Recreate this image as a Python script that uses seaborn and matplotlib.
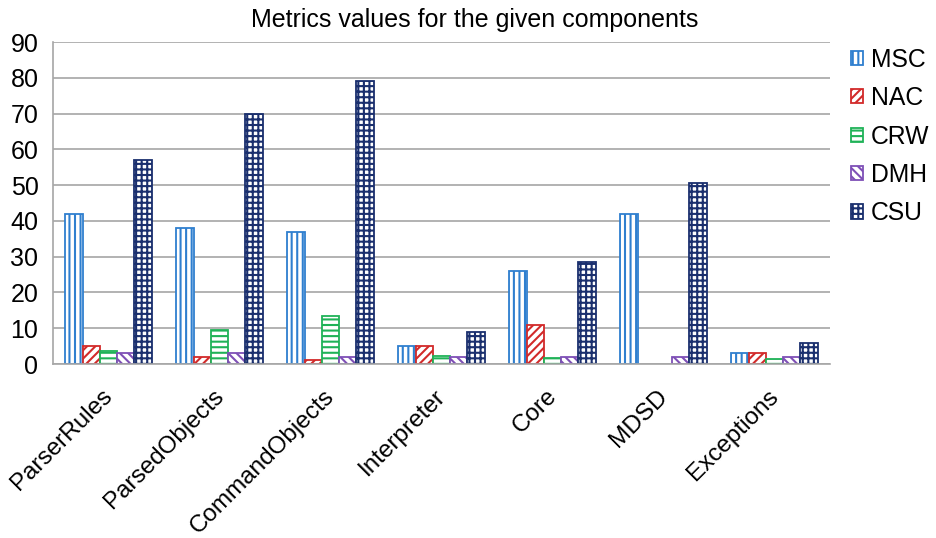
import matplotlib
matplotlib.use("Agg")
import matplotlib.pyplot as plt
from matplotlib.patches import Patch
from matplotlib.transforms import ScaledTranslation
import seaborn as sns
import pandas as pd
import numpy as np

# Components and the metric values measured for each of them
components = ["ParserRules", "ParsedObjects", "CommandObjects", "Interpreter",
              "Core", "MDSD", "Exceptions"]
metrics = ["MSC", "NAC", "CRW", "DMH", "CSU"]
msc = [42, 38, 37, 5, 26, 42, 3]
nac = [5, 2, 1, 5, 11, 0, 3]
crw = [3.5, 9.5, 13.3, 2.1, 1.6, 0, 1.4]
dmh = [3, 3, 2, 2, 2, 2, 2]
csu = [57, 70, 79, 9, 28.5, 50.5, 6]
y_ticks = [0, 10, 20, 30, 40, 50, 60, 70, 80, 90]

colors = ["#2f7fcf", "#d22a2a", "#1fb257", "#7e4fb6", "#1a2f6e"]
hatches = ["|||", "////", "---", "\\\\\\\\", "+++"]

df = pd.DataFrame({
    "component": np.repeat(components, len(metrics)),
    "metric": metrics * len(components),
    "value": np.ravel(np.column_stack([msc, nac, crw, dmh, csu])),
})

sns.set_style("white")
plt.rcParams["font.family"] = ["Liberation Sans", "DejaVu Sans"]
plt.rcParams["hatch.linewidth"] = 1.5
plt.rcParams["text.color"] = "black"
plt.rcParams["xtick.labelcolor"] = "black"
plt.rcParams["ytick.labelcolor"] = "black"

fig = plt.figure(figsize=(9.37, 5.38), dpi=100)
ax = fig.add_axes([53 / 937, 1 - 364 / 538, (830 - 53) / 937, (364 - 42) / 538])

sns.barplot(data=df, x="component", y="value", hue="metric", order=components,
            hue_order=metrics, palette=colors, width=0.78, gap=0, ax=ax,
            legend=False, errorbar=None)

for cont, col, h in zip(ax.containers, colors, hatches):
    for bar in cont:
        bar.set_facecolor("white")
        bar.set_edgecolor(col)
        bar.set_linewidth(1.3)
        bar.set_hatch(h)
        if bar.get_height() == 0:
            bar.set_visible(False)

grid_col = "#a6a6a6"
ax.set_ylim(0, 90)
ax.set_yticks(y_ticks)
ax.set_xlim(-0.5, len(components) - 0.5)
ax.yaxis.grid(True, color=grid_col, linewidth=1.2)
ax.set_axisbelow(True)
for s in ["top", "right"]:
    ax.spines[s].set_visible(False)
for s in ["left", "bottom"]:
    ax.spines[s].set_color(grid_col)
    ax.spines[s].set_linewidth(1.2)

ax.set_xlabel("")
ax.set_ylabel("")
ax.tick_params(axis="y", length=5, width=1.2, color=grid_col, labelsize=18, pad=5.5,
               labelcolor="black")
ax.tick_params(axis="x", which="major", length=0, labelsize=17.5, pad=6,
               labelcolor="black")
ax.set_xticks(np.arange(-0.5, len(components) + 0.5, 1), minor=True)
ax.tick_params(axis="x", which="minor", length=5, width=1.2, color=grid_col)
shift = ScaledTranslation(-7 / 100, -13 / 100, fig.dpi_scale_trans)
for lbl in ax.get_xticklabels():
    lbl.set_rotation(45)
    lbl.set_ha("right")
    lbl.set_rotation_mode("anchor")
    lbl.set_transform(lbl.get_transform() + shift)

ax.set_title("Metrics values for the given components", fontsize=18, pad=11,
             x=(474.5 - 53) / (830 - 53), color="black")

handles = [Patch(facecolor="white", edgecolor=c, hatch=h, linewidth=1.3)
           for c, h in zip(colors, hatches)]
leg = fig.legend(handles, metrics, loc="upper left", bbox_to_anchor=(841 / 937, 1 - 38 / 538),
                 frameon=False, fontsize=17.8, handlelength=0.5, handleheight=0.5,
                 handletextpad=0.3, labelspacing=0.58, borderaxespad=0)
for t in leg.get_texts():
    t.set_color("black")

fig.savefig("out.png", dpi=100, facecolor="white")
